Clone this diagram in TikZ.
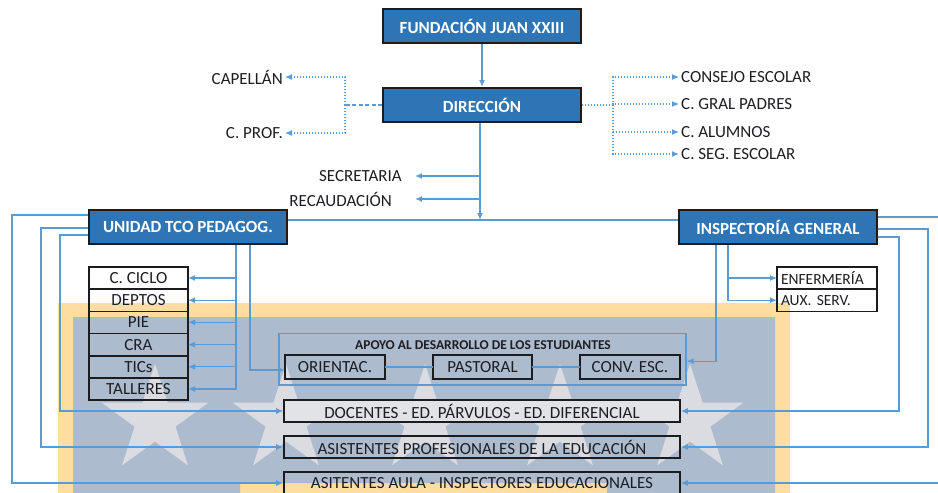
\documentclass[tikz,border=0pt]{standalone}
\usepackage{fontspec}
\setmainfont{Carlito}
\usetikzlibrary{arrows.meta, positioning, shapes.geometric, fit}

\definecolor{orgblue}{RGB}{46,117,182}
\definecolor{linkblue}{RGB}{91,155,213}
\definecolor{boxline}{RGB}{28,28,30}
\definecolor{labtext}{RGB}{30,30,34}
\definecolor{wmorange}{RGB}{253,221,160}
\definecolor{wmblue}{RGB}{172,187,206}
\definecolor{starfill}{RGB}{218,220,225}
\definecolor{docfill}{RGB}{226,227,230}

\newcommand{\headfont}{\fontsize{17}{19}\selectfont\bfseries}
\newcommand{\labfont}{\fontsize{17}{19}\selectfont}
\newcommand{\smallfont}{\fontsize{15.5}{17}\selectfont}
\newcommand{\apoyofont}{\fontsize{13.5}{15}\selectfont\bfseries}

\begin{document}
\begin{tikzpicture}[
    x=1pt, y=-1pt,
    head/.style={rectangle, draw=boxline, line width=2pt, fill=orgblue, text=white, font=\headfont, minimum width=198pt, minimum height=34pt, inner sep=0pt},
    unit/.style={rectangle, draw=boxline, line width=1.6pt, text=labtext, minimum width=99pt, minimum height=22.2pt, inner sep=0pt, outer sep=0pt, font=\labfont},
    staff/.style={rectangle, draw=boxline, line width=1.6pt, text=labtext, minimum width=396pt, minimum height=22pt, inner sep=0pt, font=\labfont},
    lbl/.style={font=\labfont, text=labtext, inner sep=2pt},
    link/.style={draw=linkblue, line width=1.3pt, -{Latex[length=7pt, width=6pt]}},
    plain/.style={draw=linkblue, line width=1.3pt},
    aux/.style={draw=linkblue, line width=1.2pt, dash pattern=on 1.3pt off 1.7pt, -{Latex[length=7pt, width=6pt]}},
    frame/.style={rectangle, draw=linkblue, line width=1.2pt, inner sep=6pt},
    wmstar/.style={star, star points=5, star point ratio=2.6, minimum size=112pt, inner sep=0pt, fill=starfill}
]
    \clip (0,0) rectangle (938,493);

    % Watermark behind the lower part
    \fill[wmorange] (58,303) rectangle (790,493);
    \fill[wmblue] (73,317) -- (775,317) -- (775,493) -- (607,493) -- (607,483) -- (240,483) -- (240,493) -- (73,493) -- cycle;
    \foreach \sx in {155,286,425,560,690}
        \node[wmstar] at (\sx,420) {};

    % Direction row
    \node[head] (fund) at (482,26) {FUNDACIÓN JUAN XXIII};
    \node[head] (dir) at (482,105) {DIRECCIÓN};

    \node[lbl, anchor=east] (capellan) at (285,77) {CAPELLÁN};
    \node[lbl, anchor=east] (cprof) at (285,133) {C. PROF.};
    \node[lbl, anchor=west] (consejo) at (679,77) {CONSEJO ESCOLAR};
    \node[lbl, anchor=west] (gral) at (679,104) {C. GRAL PADRES};
    \node[lbl, anchor=west] (alumnos) at (679,132) {C. ALUMNOS};
    \node[lbl, anchor=west] (seg) at (679,154) {C. SEG. ESCOLAR};

    \node[lbl, anchor=east] (secre) at (404,176) {SECRETARIA};
    \node[lbl, anchor=east] (recaud) at (394,199) {RECAUDACIÓN};

    % Second level
    \node[head] (utp) at (188,227) {UNIDAD TCO PEDAGOG.};
    \node[head] (insp) at (778,227) {INSPECTORÍA GENERAL};

    \node[unit] (cciclo) at (138.5,278) {C. CICLO};
    \node[unit, below=0pt of cciclo] (deptos) {DEPTOS};
    \node[unit, below=0pt of deptos] (pie) {PIE};
    \node[unit, below=0pt of pie] (cra) {CRA};
    \node[unit, below=0pt of cra] (tics) {TICs};
    \node[unit, below=0pt of tics] (talleres) {TALLERES};

    \node[unit, font=\smallfont, minimum width=100pt, align=left, text width=92pt] (enferm) at (827,278) {ENFERMERÍA};
    \node[unit, font=\smallfont, minimum width=100pt, align=left, text width=92pt, below=0pt of enferm] (aux) {AUX. SERV.};

    % Apoyo group
    \node[unit, minimum width=100pt, minimum height=24pt] (orient) at (335,367) {ORIENTAC.};
    \node[unit, minimum width=99pt, minimum height=24pt] (past) at (482.5,367) {PASTORAL};
    \node[unit, minimum width=100pt, minimum height=24pt] (conv) at (630,367) {CONV. ESC.};
    \node[font=\apoyofont, text=labtext, inner sep=1pt] (apoyo) at (483,345) {APOYO AL DESARROLLO DE LOS ESTUDIANTES};
    \node[frame, fit=(apoyo) (orient) (conv)] (apoyobox) {};

    % Staff rows
    \node[staff, fill=docfill] (doc) at (482,411) {DOCENTES - ED. PÁRVULOS - ED. DIFERENCIAL};
    \node[staff] (asist) at (482,447) {ASISTENTES PROFESIONALES DE LA EDUCACIÓN};
    \node[staff] (aula) at (482,483) {ASITENTES AULA - INSPECTORES EDUCACIONALES};

    % Top connectors
    \draw[link] (fund) -- (dir);
    \coordinate (lj) at (345,105);
    \coordinate (rj) at (613,105);
    \draw[plain, dash pattern=on 4pt off 2.5pt] (dir.west) -- (lj);
    \draw[aux] (lj) |- (capellan.east);
    \draw[aux] (lj) |- (cprof.east);
    \draw[plain, dash pattern=on 1.3pt off 1.7pt] (dir.east) -- (rj);
    \draw[aux] (rj) |- (consejo.west);
    \draw[aux] (rj) |- (gral.west);
    \draw[aux] (rj) |- (alumnos.west);
    \draw[aux] (rj) |- (seg.west);

    \coordinate (bus) at (480,220);
    \draw[link] (dir.south -| bus) -- (bus);
    \draw[link] (secre -| bus) -- ([xshift=11pt]secre.east);
    \draw[link] (recaud -| bus) -- ([xshift=21pt]recaud.east);
    \draw[plain] (utp.east |- bus) -- (insp.west |- bus);

    % Unidad tecnico pedagogica
    \foreach \n in {cciclo,deptos,pie,cra,tics,talleres}
        \draw[link] ([xshift=48pt]utp.south) |- (\n.east);
    \draw[link] ([xshift=62pt]utp.south) |- ([yshift=-3pt]orient.west);
    \draw[link] ([yshift=12pt]utp.west) -- ++(-76,0) |- (aula.west);
    \draw[link] ([yshift=-1pt]utp.west) -- ++(-47,0) |- (asist.west);
    \draw[link] ([yshift=-8pt]utp.west) -- ++(-28,0) |- (doc.west);

    % Inspectoria general
    \foreach \n in {enferm,aux}
        \draw[link] ([xshift=-50pt]insp.south) |- (\n.west);
    \draw[link] ([xshift=-62pt]insp.south) |- ([yshift=-2pt]apoyobox.east);
    \draw[link] ([yshift=10pt]insp.east) -- ++(70,0) |- (aula.east);
    \draw[link] ([yshift=-2pt]insp.east) -- ++(50,0) |- (asist.east);
    \draw[link] ([yshift=-10pt]insp.east) -- ++(21,0) |- (doc.east);

    % Apoyo row links
    \draw[plain] (orient) -- (past) -- (conv);

\end{tikzpicture}
\end{document}
